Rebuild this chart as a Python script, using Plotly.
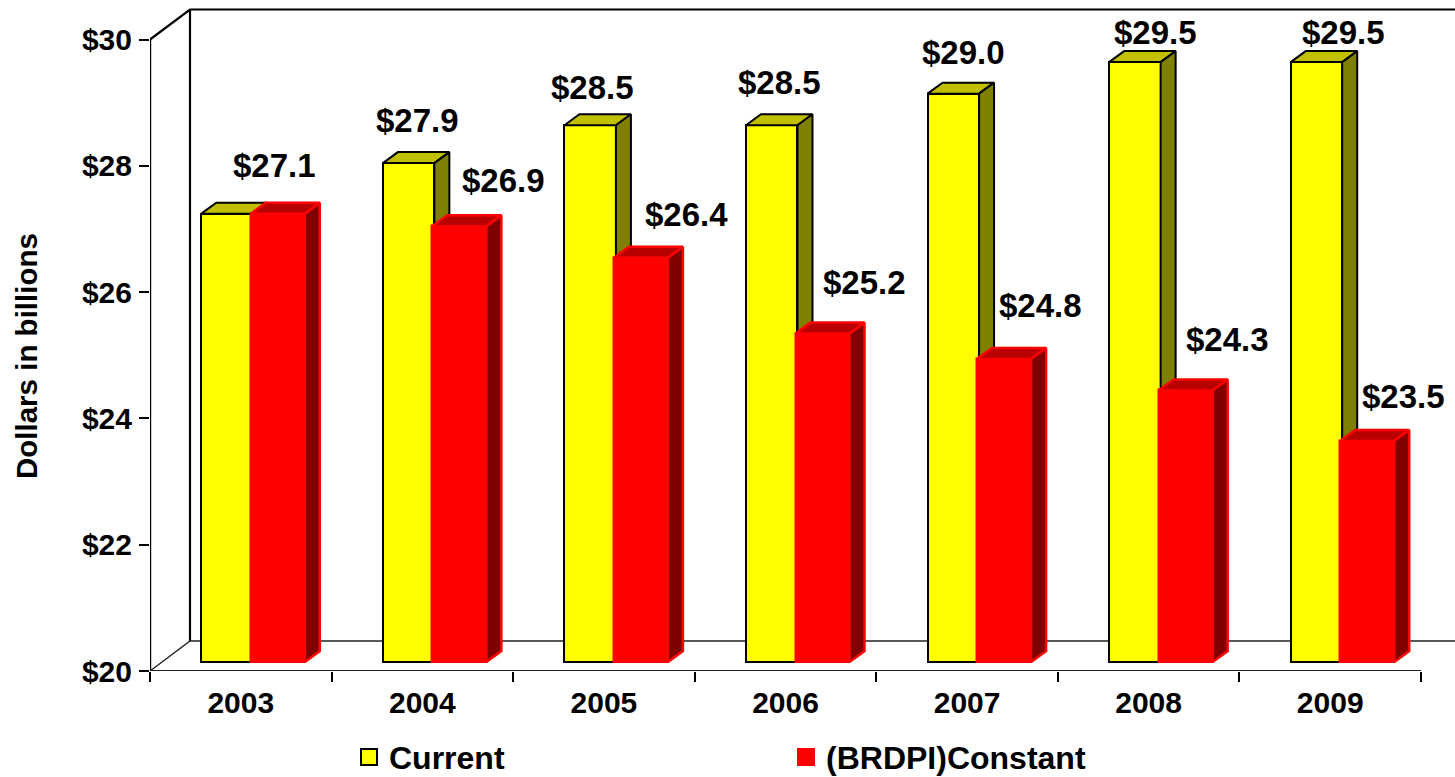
import plotly.graph_objects as go

# ---- data ----
years = ["2003", "2004", "2005", "2006", "2007", "2008", "2009"]
current = [27.1, 27.9, 28.5, 28.5, 29.0, 29.5, 29.5]
constant = [27.1, 26.9, 26.4, 25.2, 24.8, 24.3, 23.5]
y_ticks = [20, 22, 24, 26, 28, 30]
y_tick_text = ["$20", "$22", "$24", "$26", "$28", "$30"]

# ---- layout helpers (pixels -> data units) ----
W, H = 1455, 777
ML, MB = 150, 106
PX_X = 181.57
PX_Y = 63.15
FONT = "Liberation Sans, Arial, sans-serif"
xmin = -0.5
xmax = xmin + (W - ML) / PX_X
ymin = 20
ymax = 20 + (H - MB) / PX_Y
idx = list(range(len(years)))

lift = 9 / PX_Y          # bars stand a little behind the front plane
dx, dy = 15 / PX_X, 11 / PX_Y   # bar depth
wx, wy = 40 / PX_X, 30 / PX_Y   # wall depth

y_off, y_w = -39.5 / PX_X, 51.5 / PX_X
r_off, r_w = 10 / PX_X, 54 / PX_X


def faces(values, off, width):
    top_x, top_y, side_x, side_y = [], [], [], []
    for i, v in zip(idx, values):
        l = i + off
        r = l + width
        t = v + lift
        b = 20 + lift
        top_x += [l, r, r + dx, l + dx, l, None]
        top_y += [t, t, t + dy, t + dy, t, None]
        side_x += [r, r + dx, r + dx, r, r, None]
        side_y += [t, t + dy, b + dy, b, t, None]
    return top_x, top_y, side_x, side_y


fig = go.Figure()


def line(x, y, width=2.2, color="#000000"):
    fig.add_trace(go.Scatter(x=x, y=y, mode="lines", hoverinfo="skip", showlegend=False,
                             line=dict(color=color, width=width), zorder=0))


# walls and floor
line([xmin, xmin + wx, xmax], [30, 30 + wy, 30 + wy], 2.2)
line([xmin + wx, xmin + wx], [30 + wy, 20 + wy], 2.2)
line([xmin, xmin + wx, xmax], [20, 20 + wy, 20 + wy], 1.4, "#222222")
# axis lines
line([xmin, xmin], [20, 30], 2.4)
line([xmin, xmin + 7], [20, 20], 2.0, "#222222")


def series(name, values, off, width, front, top, side, edge, lw, z):
    fig.add_trace(go.Bar(x=idx, y=[v - 20 for v in values], base=20 + lift, offset=off, width=width,
                         marker=dict(color=front, line=dict(color=edge, width=lw)),
                         name=name, showlegend=False, zorder=z))
    tx, ty, sx, sy = faces(values, off, width)
    for fx, fy, col in ((tx, ty, top), (sx, sy, side)):
        fig.add_trace(go.Scatter(x=fx, y=fy, mode="lines", fill="toself", fillcolor=col,
                                 line=dict(color=edge, width=lw), hoverinfo="skip",
                                 showlegend=False, zorder=z))
    fig.add_trace(go.Scatter(x=[None], y=[None], mode="markers", name=name,
                             marker=dict(symbol="square", size=21, color=front,
                                         line=dict(color=edge, width=2)), zorder=z))


series("Current", current, y_off, y_w, "#FFFF00", "#C0C000", "#808000", "#000000", 2, 1)
series("(BRDPI)Constant", constant, r_off, r_w, "#FF0000", "#B80000", "#800000", "#FF0000", 2.5, 2)

# value labels (pixel nudges from each value)
cur_dx = [34, -5, -11, -6, -4, 7, 13]
cur_dy = [57.6, 52, 47, 52, 50, 39, 39]
con_dx = [None, 81, 83, 79, 73, 79, 73]
con_dy = [None, 55, 52, 60, 62, 59.5, 53]
label_font = dict(family=FONT, size=33, color="#000000", weight="bold")

for i, v, sx, sy in zip(idx, current, cur_dx, cur_dy):
    fig.add_annotation(x=i, y=v, xshift=sx, yshift=sy, text=f"${v:.1f}", showarrow=False, font=label_font)
for i, v, sx, sy in zip(idx, constant, con_dx, con_dy):
    if sx is not None:
        fig.add_annotation(x=i, y=v, xshift=sx, yshift=sy, text=f"${v:.1f}", showarrow=False, font=label_font)

tick_font = dict(family=FONT, size=30, color="#000000", weight="bold")
fig.update_layout(
    width=W, height=H, autosize=False,
    margin=dict(l=ML, r=0, t=0, b=MB, pad=0, autoexpand=False),
    paper_bgcolor="#FFFFFF", plot_bgcolor="#FFFFFF",
    barmode="overlay", bargap=0,
    font=dict(family=FONT, color="#000000"),
    showlegend=True,
    legend=dict(orientation="h", x=(349 - ML) / (W - ML), xanchor="left", y=-0.0875, yanchor="top",
                font=dict(family=FONT, size=32, color="#000000", weight="bold"),
                itemwidth=30, entrywidth=392, entrywidthmode="pixels",
                bgcolor="rgba(0,0,0,0)", tracegroupgap=0),
    xaxis=dict(range=[xmin, xmax], showgrid=False, zeroline=False, showline=False,
               tickmode="array", tickvals=idx, ticktext=years, ticks="", tickfont=tick_font,
               ticklabelstandoff=11,
               minor=dict(tickmode="array", tickvals=[i - 0.5 for i in range(len(years) + 1)],
                          ticks="outside", ticklen=10, tickwidth=2, tickcolor="#000000", showgrid=False)),
    yaxis=dict(range=[ymin, ymax], showgrid=False, zeroline=False, showline=False,
               tickmode="array", tickvals=y_ticks, ticktext=y_tick_text, ticks="outside",
               ticklen=10, tickwidth=2, tickcolor="#000000", tickfont=tick_font,
               ticklabelstandoff=1),
)
fig.add_annotation(xref="paper", yref="paper", x=(26 - ML) / (W - ML), xanchor="center",
                   y=(H - MB - 356) / (H - MB), yanchor="middle",
                   text="Dollars in billions", textangle=-90, showarrow=False,
                   font=dict(family=FONT, size=29.5, color="#000000", weight="bold"))

fig.write_html("out.html", config={"displayModeBar": False},
               post_script="document.body.style.margin='0';document.body.style.overflow='hidden';")
